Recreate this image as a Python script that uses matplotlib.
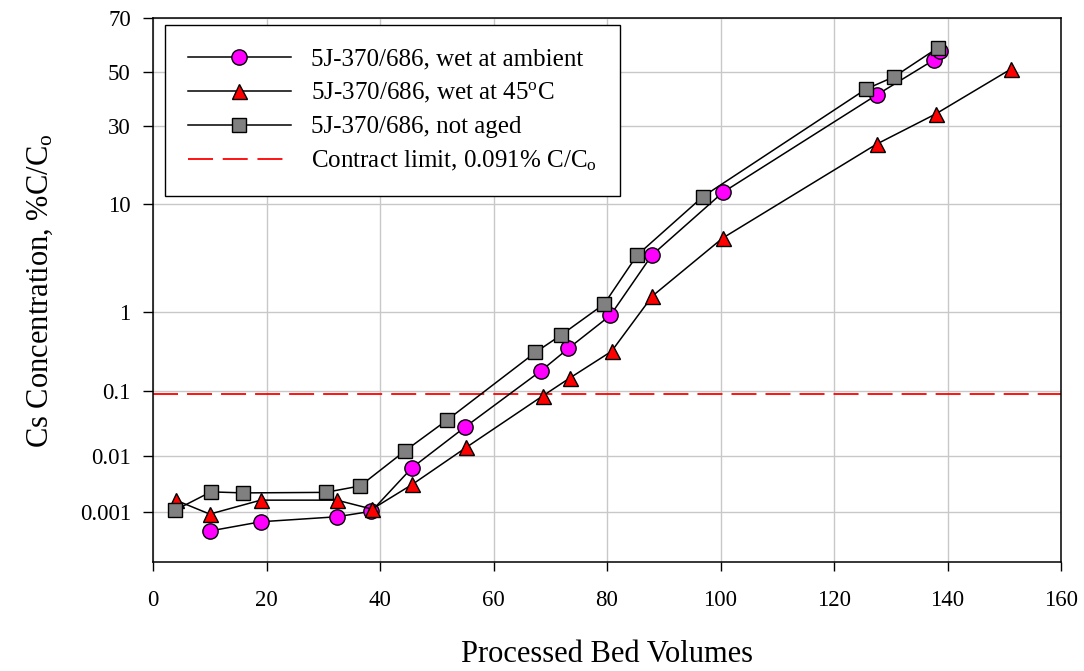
import numpy as np
import matplotlib
matplotlib.use("Agg")
import matplotlib.pyplot as plt
from matplotlib.ticker import FixedLocator, FixedFormatter, NullLocator
from matplotlib.lines import Line2D
from statistics import NormalDist

# ---------------- data ----------------
bv_ambient = [10.0, 19.0, 32.4, 38.5, 45.6, 55.0, 68.4, 73.2, 80.6, 87.9, 100.4, 127.5, 137.6, 138.6]
cs_ambient = [0.00043, 0.00065, 0.00081, 0.00103, 0.0062, 0.029, 0.19, 0.37, 0.92, 3.8, 12.2, 41.3, 54.8, 58.3]

bv_45c = [4.0, 10.0, 19.0, 32.4, 38.6, 45.7, 55.2, 68.7, 73.5, 80.8, 88.0, 100.4, 127.5, 137.9, 151.2]
cs_45c = [0.00166, 0.00091, 0.00166, 0.00166, 0.00113, 0.0032, 0.0137, 0.085, 0.152, 0.34, 1.5, 5.4, 24.3, 34.3, 51.3]

bv_notaged = [3.9, 10.2, 15.9, 30.4, 36.5, 44.4, 51.8, 67.4, 71.9, 79.5, 85.3, 96.9, 125.6, 130.6, 138.3]
cs_notaged = [0.00108, 0.00235, 0.00225, 0.0023, 0.0030, 0.012, 0.037, 0.33, 0.54, 1.23, 3.8, 11.4, 43.5, 48.3, 59.4]

contract_limit = 0.091

labels = ["5J-370/686, wet at ambient",
          r"5J-370/686, wet at 45$^{\mathrm{o}}$C",
          "5J-370/686, not aged",
          r"Contract limit, 0.091% C/C$_{\mathrm{o}}$"]

y_ticks = [0.001, 0.01, 0.1, 1, 10, 30, 50, 70]
y_tick_labels = ["0.001", "0.01", "0.1", "1", "10", "30", "50", "70"]
x_ticks = [0, 20, 40, 60, 80, 100, 120, 140, 160]

# ---------------- probability scale ----------------
_nd = NormalDist()

def _ppf(q):
    if not np.isfinite(q):
        return np.nan
    q = min(max(q, 1e-15), 1 - 1e-15)
    return _nd.inv_cdf(q)

def _cdf(z):
    if not np.isfinite(z):
        return np.nan if np.isnan(z) else (1.0 if z > 0 else 0.0)
    return _nd.cdf(z)

_vppf = np.vectorize(_ppf, otypes=[float])
_vcdf = np.vectorize(_cdf, otypes=[float])

def fwd(p):
    p = np.asarray(p, dtype=float)
    return _vppf(p / 100.0)

def inv(z):
    z = np.asarray(z, dtype=float)
    return _vcdf(z) * 100.0

# ---------------- style ----------------
plt.rcParams['font.family'] = ['Liberation Serif', 'DejaVu Serif']
plt.rcParams['mathtext.fontset'] = 'custom'
plt.rcParams['mathtext.rm'] = 'Liberation Serif'
plt.rcParams['mathtext.it'] = 'Liberation Serif:italic'
plt.rcParams['mathtext.bf'] = 'Liberation Serif:bold'
plt.rcParams['lines.scale_dashes'] = False

fig = plt.figure(figsize=(10.84, 6.71), dpi=100)
ax = fig.add_axes([153 / 1084, 1 - 562.3 / 671, 908 / 1084, 544 / 671])

ax.set_yscale('function', functions=(fwd, inv))
ax.set_xlim(0, 160)
ax.set_ylim(0.0001, 70)

ax.yaxis.set_major_locator(FixedLocator(y_ticks))
ax.yaxis.set_major_formatter(FixedFormatter(y_tick_labels))
ax.yaxis.set_minor_locator(NullLocator())
ax.xaxis.set_major_locator(FixedLocator(x_ticks))
ax.xaxis.set_minor_locator(NullLocator())

ax.grid(True, color='#c8c8c8', linewidth=1.0, zorder=0)
ax.set_axisbelow(True)

for s in ax.spines.values():
    s.set_linewidth(1.1)
    s.set_color('black')

ax.tick_params(axis='y', direction='out', length=7, width=1.0, pad=9, labelsize=16.5)
ax.tick_params(axis='x', direction='out', length=6.5, width=1.0, pad=13.5, labelsize=16.5)

lw = 1.1
ms_c, ms_t, ms_s = 11.0, 10.8, 9.8

ax.axhline(contract_limit, color='red', linewidth=1.3, dashes=(18, 6.5), zorder=1.5)

ax.plot(bv_ambient, cs_ambient, color='black', linewidth=lw, marker='o', markersize=ms_c,
        markerfacecolor='#ff00ff', markeredgecolor='black', markeredgewidth=1.0, zorder=3)
ax.plot(bv_45c, cs_45c, color='black', linewidth=lw, marker='^', markersize=ms_t,
        markerfacecolor='#ff0000', markeredgecolor='black', markeredgewidth=1.0, zorder=3)
ax.plot(bv_notaged, cs_notaged, color='black', linewidth=lw, marker='s', markersize=ms_s,
        markerfacecolor='#808080', markeredgecolor='black', markeredgewidth=1.0, zorder=3)

handles = [
    Line2D([], [], color='black', linewidth=lw, marker='o', markersize=ms_c,
           markerfacecolor='#ff00ff', markeredgecolor='black', markeredgewidth=1.0),
    Line2D([], [], color='black', linewidth=lw, marker='^', markersize=ms_t,
           markerfacecolor='#ff0000', markeredgecolor='black', markeredgewidth=1.0),
    Line2D([], [], color='black', linewidth=lw, marker='s', markersize=ms_s,
           markerfacecolor='#808080', markeredgecolor='black', markeredgewidth=1.0),
    Line2D([], [], color='red', linewidth=1.3, dashes=(18, 7)),
]
leg = ax.legend(handles, labels, loc='upper left', bbox_to_anchor=(12 / 908, 1 - 7 / 544),
                borderaxespad=0, frameon=True, fancybox=False, shadow=False,
                fontsize=18, handlelength=4.15, handletextpad=0.8, labelspacing=0.43,
                borderpad=0.9, numpoints=1)
leg.get_frame().set_edgecolor('black')
leg.get_frame().set_linewidth(1.0)
leg.get_frame().set_alpha(1)
leg.set_zorder(5)

ax.set_xlabel("Processed Bed Volumes", fontsize=22)
ax.xaxis.label.set_va('center')
ax.xaxis.set_label_coords(0.5, (562.3 - 655) / 544)

ax.set_ylabel(r"Cs Concentration, %C/C$_{\mathrm{o}}$", fontsize=22)
ax.yaxis.label.set_va('center')
ax.yaxis.set_label_coords((40 - 153) / 908, (562.3 - 291) / 544)

fig.savefig("out.png", dpi=100)
